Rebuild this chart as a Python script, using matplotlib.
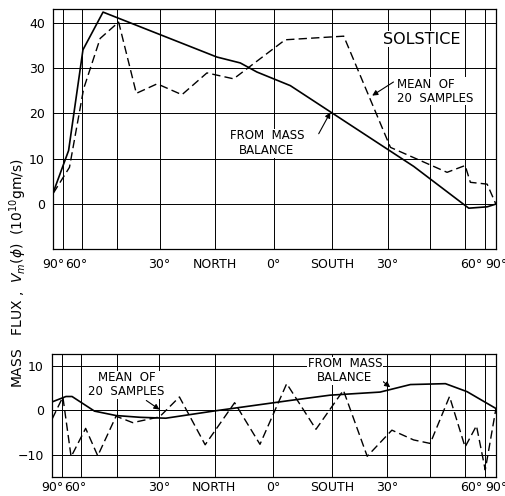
import numpy as np
import matplotlib
matplotlib.use("Agg")
import matplotlib.pyplot as plt

# --- data (latitude in degrees, north positive; flux in 1e10 gm/s) ---
top_mass_lat = [75, 64, 56.7, 48.4, 14.4, 8.4, 4.2, -4.2, -37.9, -58.8, -69.4, -77]
top_mass_val = [2.6, 11.8, 34, 42.3, 32.4, 31.1, 29.1, 26.1, 8.3, -0.9, -0.6, 0]

top_mean_lat = [75, 63.5, 56.4, 49.5, 42.8, 37.0, 30.7, 23.7, 17.0, 10.1, -2.9,
                -17.9, -30.8, -49.5, -57.1, -59.6, -69.4, -77]
top_mean_val = [2.4, 8.1, 25.4, 36.5, 40.1, 24.4, 26.5, 24.1, 28.9, 27.6, 36.2,
                37.0, 12.5, 7.0, 8.5, 4.8, 4.4, 0]

bot_mass_lat = [75, 65, 61.6, 51.4, 43.4, 35.5, 28, 14.8, -4.2, -14.4, -27.9,
                -36.9, -48.9, -58, -77]
bot_mass_val = [1.9, 3.1, 3.1, -0.2, -1.2, -1.6, -1.8, -0.15, 2.2, 3.4, 4.1,
                5.8, 6.0, 4.2, 0.4]

bot_mean_lat = [75, 66.9, 62.1, 55.1, 50.1, 43.4, 37.9, 29.8, 24.2, 17.3, 9.7,
                3.3, -3.4, -10.8, -17.9, -24.3, -31.3, -37.9, -43.4, -50.5,
                -57.1, -62.8, -68.1, -77]
bot_mean_val = [-1.9, 3.0, -10.5, -4.1, -10.3, -1.35, -2.8, -1.5, 3.0, -7.8, 1.7,
                -7.7, 6.0, -4.3, 4.5, -10.4, -4.5, -6.7, -7.5, 3.1,
                -8.3, -3.5, -13.5, 0.3]

grid_lat = [67.5, 57, 43.2, 30, 14.8, 0, -14.8, -30, -43.2, -57, -68]
tick_lat = [75, 60, 30, 15, 0, -15, -30, -60, -77]
tick_lab = ["90°", "60°", "30°", "NORTH", "0°", "SOUTH", "30°", "60°", "90°"]


def fwd(x):
    return np.sin(np.radians(x))


def inv(s):
    return np.degrees(np.arcsin(np.clip(s, -1, 1)))


fig = plt.figure(figsize=(5.06, 4.96), dpi=100)
ax1 = fig.add_axes([0.1053, 0.497, 0.8747, 0.485])
ax2 = fig.add_axes([0.1034, 0.039, 0.8766, 0.2473])

for ax in (ax1, ax2):
    ax.set_xscale("function", functions=(fwd, inv))
    ax.set_xlim(75, -77)
    for g in grid_lat:
        ax.axvline(g, color="black", lw=0.7, zorder=1)
    ax.set_xticks(tick_lat)
    ax.set_xticklabels(tick_lab)
    ax.xaxis.set_minor_locator(plt.NullLocator())
    ax.tick_params(length=0, labelsize=9, pad=6)
    ax.grid(axis="y", color="black", lw=0.7)
    ax.set_axisbelow(True)
    for sp in ax.spines.values():
        sp.set_linewidth(0.9)
ax2.tick_params(axis="x", pad=3)

dash = dict(color="black", lw=1.0, dashes=(6, 3))
solid = dict(color="black", lw=1.2)

ax1.plot(top_mass_lat, top_mass_val, **solid, zorder=3)
ax1.plot(top_mean_lat, top_mean_val, **dash, zorder=3)
ax1.set_ylim(-10, 43)
ax1.set_yticks([0, 10, 20, 30, 40])

ax2.plot(bot_mass_lat, bot_mass_val, **solid, zorder=3)
ax2.plot(bot_mean_lat, bot_mean_val, **dash, zorder=3)
ax2.set_ylim(-15, 12.7)
ax2.set_yticks([-10, 0, 10])

box = dict(facecolor="white", edgecolor="none", pad=0.5)
arr = dict(arrowstyle="-|>", color="black", lw=0.8, mutation_scale=8,
           shrinkA=0, shrinkB=0)

# top panel labels
ax1.text(-40.4, 36.3, "SOLSTICE", fontsize=11.5, ha="center", va="center",
         bbox=box, zorder=4)
ax1.text(-32.8, 24.9, "MEAN  OF\n20  SAMPLES", fontsize=8.5, ha="left",
         va="center", linespacing=1.1, bbox=box, zorder=4)
ax1.annotate("", xy=(-25.6, 23.9), xytext=(-31.7, 26.9), arrowprops=arr)
ax1.text(1.7, 13.4, "FROM  MASS\nBALANCE", fontsize=8.5, ha="center",
         va="center", linespacing=1.2, bbox=box, zorder=4)
ax1.annotate("", xy=(-14.4, 20.2), xytext=(-11.4, 15.5), arrowprops=arr)

# bottom panel labels
ax2.text(39.9, 5.7, "MEAN  OF\n20  SAMPLES", fontsize=8.5, ha="center",
         va="center", linespacing=1.1, bbox=box, zorder=4)
ax2.annotate("", xy=(29.8, 0.15), xytext=(33.7, 2.2), arrowprops=arr)
ax2.text(-18.3, 8.9, "FROM  MASS\nBALANCE", fontsize=8.5, ha="center",
         va="center", linespacing=1.1, bbox=box, zorder=4)
ax2.annotate("", xy=(-30.8, 5.2), xytext=(-27.4, 7.3), arrowprops=arr)

fig.text(0.036, 0.45, r"MASS   FLUX ,  $V_m(\phi)$  $(10^{10}$gm/s)",
         rotation=90, ha="center", va="center", fontsize=10)

fig.savefig("out.png", dpi=100)
